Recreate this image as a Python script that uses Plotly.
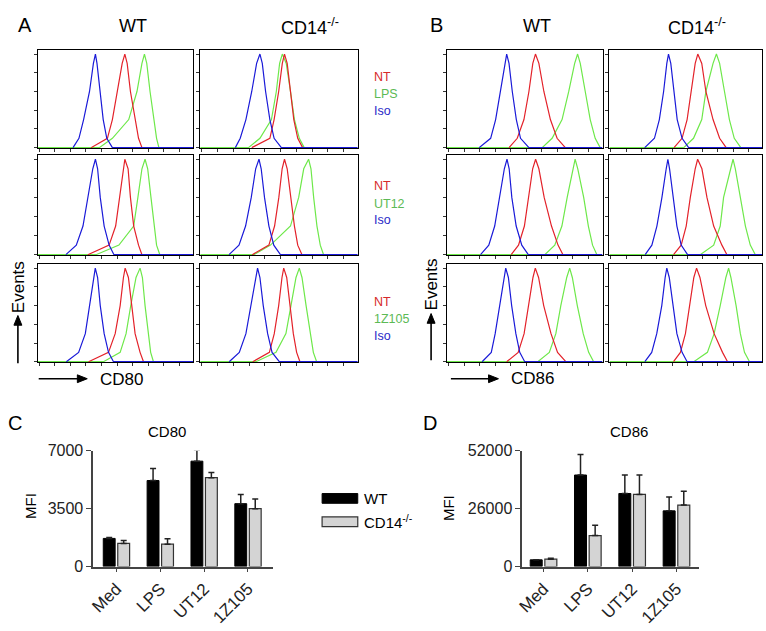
import plotly.graph_objects as go

W, H = 766, 631

# ---------------- histogram data (channel position 0-100 at relative heights) -------------
levels = [0, 0.1, 0.3, 0.6, 0.9, 1.0, 0.9, 0.6, 0.3, 0.1, 0]

# CD80 (panel A)
cd80_r1_wt_iso = [22.7, 26.5, 29.5, 33.3, 35.8, 37.1, 38.1, 40.0, 42.1, 44.4, 48.0]
cd80_r1_wt_nt = [34.3, 44.8, 48.0, 51.2, 54.3, 56.0, 57.5, 59.6, 62.7, 64.8, 67.0]
cd80_r1_wt_stim = [39.6, 48.0, 58.5, 63.8, 67.0, 68.6, 70.1, 72.2, 74.9, 76.4, 77.9]
cd80_r1_ko_iso = [22.3, 25.4, 29.0, 32.7, 35.8, 37.9, 39.4, 41.5, 44.2, 46.9, 51.5]
cd80_r1_ko_nt = [32.7, 44.2, 46.9, 49.8, 52.1, 53.5, 55.2, 57.3, 59.4, 61.9, 65.0]
cd80_r1_ko_stim = [30.6, 37.9, 45.2, 48.3, 50.4, 52.1, 54.6, 57.3, 59.8, 62.9, 66.0]
cd80_r2_wt_iso = [18.1, 24.8, 29.1, 32.2, 35.4, 37.1, 38.5, 40.2, 42.7, 45.9, 49.0]
cd80_r2_wt_nt = [32.2, 45.9, 50.1, 52.6, 54.7, 56.0, 58.1, 59.6, 61.7, 64.8, 67.0]
cd80_r2_wt_stim = [37.5, 52.2, 61.7, 64.4, 67.0, 69.0, 70.7, 72.8, 74.9, 76.4, 78.5]
cd80_r2_ko_iso = [18.3, 24.6, 28.8, 32.4, 35.2, 37.3, 38.7, 40.8, 43.6, 46.7, 50.9]
cd80_r2_ko_nt = [33.0, 43.6, 47.2, 49.9, 52.0, 53.5, 55.2, 57.3, 59.8, 61.9, 64.6]
cd80_r2_ko_stim = [34.1, 44.6, 57.3, 62.5, 65.7, 68.8, 70.3, 72.0, 74.1, 76.2, 78.3]
cd80_r3_wt_iso = [18.4, 26.3, 30.6, 33.3, 35.9, 37.0, 38.5, 40.2, 42.7, 45.5, 48.7]
cd80_r3_wt_nt = [32.7, 45.5, 49.8, 53.0, 55.1, 56.2, 58.3, 60.5, 62.6, 65.8, 68.0]
cd80_r3_wt_stim = [42.3, 53.0, 56.8, 59.8, 63.2, 65.8, 67.3, 69.0, 71.2, 72.6, 74.4]
cd80_r3_ko_iso = [18.4, 24.8, 29.0, 32.2, 35.0, 36.4, 37.9, 40.0, 42.8, 45.6, 50.2]
cd80_r3_ko_nt = [33.3, 43.9, 47.0, 49.8, 51.9, 53.0, 54.9, 57.0, 59.1, 61.2, 63.3]
cd80_r3_ko_stim = [35.4, 48.1, 54.4, 57.6, 60.8, 62.9, 64.6, 67.2, 69.7, 71.8, 73.9]

# CD86 (panel B)
cd86_r1_wt_iso = [20.7, 28.1, 31.3, 34.5, 37.3, 38.4, 39.9, 42.0, 44.6, 47.3, 52.7]
cd86_r1_wt_nt = [39.9, 45.2, 49.5, 52.7, 55.2, 56.9, 59.1, 62.3, 66.5, 70.8, 76.1]
cd86_r1_wt_stim = [61.2, 67.6, 74.0, 78.3, 82.1, 84.0, 85.7, 88.9, 92.1, 95.3, 98.5]
cd86_r1_ko_iso = [23.1, 29.5, 32.7, 35.5, 37.6, 38.7, 40.2, 42.3, 44.4, 47.6, 51.9]
cd86_r1_ko_nt = [42.3, 47.6, 50.9, 53.4, 56.2, 57.9, 60.5, 63.2, 67.9, 72.2, 76.5]
cd86_r1_ko_stim = [48.7, 55.1, 60.5, 63.2, 67.9, 70.1, 72.2, 75.4, 78.6, 81.8, 86.1]
cd86_r2_wt_iso = [21.6, 26.9, 30.7, 33.9, 36.9, 38.6, 40.0, 41.7, 44.5, 48.1, 52.3]
cd86_r2_wt_nt = [41.3, 46.0, 49.8, 52.3, 55.1, 57.0, 59.1, 62.5, 67.2, 71.4, 74.6]
cd86_r2_wt_stim = [62.9, 69.3, 73.9, 77.3, 80.9, 82.4, 84.1, 87.9, 90.9, 93.6, 96.4]
cd86_r2_ko_iso = [23.4, 27.8, 31.1, 34.4, 37.2, 38.3, 39.4, 42.0, 44.2, 47.0, 51.2]
cd86_r2_ko_nt = [42.0, 47.0, 50.3, 53.0, 56.2, 57.8, 60.6, 63.9, 68.3, 73.7, 77.0]
cd86_r2_ko_stim = [59.5, 68.3, 72.6, 74.8, 79.2, 81.0, 82.5, 85.8, 89.1, 92.3, 95.6]
cd86_r3_wt_iso = [22.6, 28.5, 31.0, 33.8, 36.7, 37.8, 39.5, 41.6, 44.3, 46.8, 50.0]
cd86_r3_wt_nt = [38.4, 45.8, 49.6, 52.5, 55.3, 56.8, 58.9, 62.2, 66.9, 71.1, 76.4]
cd86_r3_wt_stim = [58.4, 65.8, 70.0, 73.2, 77.0, 78.9, 80.6, 83.8, 87.6, 91.1, 94.3]
cd86_r3_ko_iso = [23.2, 27.7, 31.0, 34.3, 36.5, 37.6, 39.2, 41.6, 44.2, 47.6, 50.9]
cd86_r3_ko_nt = [42.0, 46.5, 49.8, 52.7, 55.3, 57.1, 59.3, 63.1, 68.6, 74.1, 77.4]
cd86_r3_ko_stim = [55.3, 64.2, 68.6, 72.6, 76.3, 78.1, 79.6, 83.0, 85.8, 88.5, 91.8]

stim_labels = ["LPS", "UT12", "1Z105"]

# ---------------- bar data ----------------
categories = ["Med", "LPS", "UT12", "1Z105"]
cd80_wt = [1700, 5200, 6370, 3800]
cd80_wt_err = [60, 720, 670, 550]
cd80_ko = [1400, 1350, 5370, 3500]
cd80_ko_err = [180, 330, 310, 590]
cd86_wt = [3000, 41100, 32800, 25000]
cd86_wt_err = [0, 9200, 8300, 6200]
cd86_ko = [3300, 13900, 32400, 27600]
cd86_ko_err = [400, 4600, 8700, 6200]
cd80_ticks = [0, 3500, 7000]
cd86_ticks = [0, 26000, 52000]

FONT = "Arial, Liberation Sans, sans-serif"
BLUE, RED, GREEN = "#1a1ad8", "#e3222a", "#6ee84a"


def px(x):
    return x / W


def py(y):
    return 1 - y / H


fig = go.Figure()
layout = dict(width=W, height=H, margin=dict(l=0, r=0, t=0, b=0), autosize=False,
              paper_bgcolor="white", plot_bgcolor="white", showlegend=False,
              bargap=0.34, bargroupgap=0.18, barmode="group")

row_px = [(43, 144), (151, 254), (263, 364)]
col_px = [(31, 188), (195, 354), (444, 601), (608, 762)]

panels = [
    [(cd80_r1_wt_iso, cd80_r1_wt_nt, cd80_r1_wt_stim), (cd80_r1_ko_iso, cd80_r1_ko_nt, cd80_r1_ko_stim),
     (cd86_r1_wt_iso, cd86_r1_wt_nt, cd86_r1_wt_stim), (cd86_r1_ko_iso, cd86_r1_ko_nt, cd86_r1_ko_stim)],
    [(cd80_r2_wt_iso, cd80_r2_wt_nt, cd80_r2_wt_stim), (cd80_r2_ko_iso, cd80_r2_ko_nt, cd80_r2_ko_stim),
     (cd86_r2_wt_iso, cd86_r2_wt_nt, cd86_r2_wt_stim), (cd86_r2_ko_iso, cd86_r2_ko_nt, cd86_r2_ko_stim)],
    [(cd80_r3_wt_iso, cd80_r3_wt_nt, cd80_r3_wt_stim), (cd80_r3_ko_iso, cd80_r3_ko_nt, cd80_r3_ko_stim),
     (cd86_r3_wt_iso, cd86_r3_wt_nt, cd86_r3_wt_stim), (cd86_r3_ko_iso, cd86_r3_ko_nt, cd86_r3_ko_stim)],
]

k = 0
for r, (y0, y1) in enumerate(row_px):
    for c, (x0, x1) in enumerate(col_px):
        k += 1
        sfx = "" if k == 1 else str(k)
        iso, nt, stim = panels[r][c]
        xa, ya = "x" + sfx, "y" + sfx
        fig.add_trace(go.Scatter(x=[0] + stim, y=[0] + levels, mode="lines",
                                 line=dict(color=GREEN, width=1.2), xaxis=xa, yaxis=ya, hoverinfo="skip"))
        fig.add_trace(go.Scatter(x=nt, y=levels, mode="lines",
                                 line=dict(color=RED, width=1.2), xaxis=xa, yaxis=ya, hoverinfo="skip"))
        fig.add_trace(go.Scatter(x=iso + [100], y=levels + [0], mode="lines",
                                 line=dict(color=BLUE, width=1.2), xaxis=xa, yaxis=ya, hoverinfo="skip"))
        layout["xaxis" + sfx] = dict(domain=[px(x0), px(x1)], range=[0, 100], anchor=ya,
                                     showline=True, mirror=True, linecolor="black", linewidth=1.3,
                                     showgrid=False, zeroline=False, showticklabels=False,
                                     ticks="outside", ticklen=3, tick0=1, dtick=10, tickcolor="#333")
        layout["yaxis" + sfx] = dict(domain=[py(y1), py(y0)], range=[-0.005, 1.045], anchor=xa,
                                     showline=True, mirror=True, linecolor="black", linewidth=1.3,
                                     showgrid=False, zeroline=False, showticklabels=False,
                                     ticks="outside", ticklen=3, tick0=0, dtick=0.2, tickcolor="#333")

# ---------------- bar charts ----------------
bar_specs = [
    (13, (87, 268), [-0.53, 3.56], cd80_ticks, cd80_wt, cd80_wt_err, cd80_ko, cd80_ko_err),
    (14, (520, 698), [-0.48, 3.5], cd86_ticks, cd86_wt, cd86_wt_err, cd86_ko, cd86_ko_err),
]
for idx, (x0, x1), xr, tv, wt, wte, ko, koe in bar_specs:
    sfx = str(idx)
    xa, ya = "x" + sfx, "y" + sfx
    fig.add_trace(go.Bar(x=categories, y=wt, xaxis=xa, yaxis=ya, offsetgroup="wt",
                         marker=dict(color="black", line=dict(color="black", width=1)),
                         error_y=dict(type="data", symmetric=False, array=wte, arrayminus=[0] * 4,
                                      color="#222", thickness=1.5, width=3)))
    fig.add_trace(go.Bar(x=categories, y=ko, xaxis=xa, yaxis=ya, offsetgroup="ko",
                         marker=dict(color="#d4d4d4", line=dict(color="#333", width=1.2)),
                         error_y=dict(type="data", symmetric=False, array=koe, arrayminus=[0] * 4,
                                      color="#222", thickness=1.5, width=3)))
    layout["xaxis" + sfx] = dict(domain=[px(x0), px(x1)], range=xr, anchor=ya,
                                 showline=True, linecolor="#444", linewidth=1.5, showgrid=False,
                                 zeroline=False, ticks="outside", ticklen=4, tickcolor="#444",
                                 tickangle=-45, tickfont=dict(family=FONT, size=17, color="#222"))
    layout["yaxis" + sfx] = dict(domain=[py(574), py(455)], range=[0, tv[-1]], anchor=xa,
                                 showline=True, linecolor="#444", linewidth=1.5, showgrid=False,
                                 zeroline=False, ticks="outside", ticklen=5, tickcolor="#444",
                                 tickvals=tv, ticktext=[str(v) for v in tv],
                                 tickfont=dict(family=FONT, size=16, color="#222"))

fig.update_layout(**layout)

ann = []
shapes = []


def txt(x, y, s, size, color="black", xanchor="center", angle=0):
    ann.append(dict(x=px(x), y=py(y), xref="paper", yref="paper", text=s, showarrow=False,
                    xanchor=xanchor, yanchor="middle", textangle=angle,
                    font=dict(family=FONT, size=size, color=color)))


def arrow(hx, hy, tx, ty):
    # shaft
    shapes.append(dict(type="line", xref="paper", yref="paper", x0=px(tx), y0=py(ty),
                       x1=px(hx), y1=py(hy), line=dict(color="black", width=1.6)))
    # head (filled triangle)
    if hx == tx:  # vertical, head up
        pts = [(hx, hy - 2), (hx - 4, hy + 8), (hx + 4, hy + 8)]
    else:  # horizontal, head right
        pts = [(hx + 2, hy), (hx - 8, hy - 4), (hx - 8, hy + 4)]
    path = "M " + " L ".join(f"{px(a):.5f},{py(b):.5f}" for a, b in pts) + " Z"
    shapes.append(dict(type="path", xref="paper", yref="paper", path=path,
                       fillcolor="black", line=dict(color="black", width=1)))


# panel letters and headers
txt(18, 17, "A", 20)
txt(433, 17, "B", 20)
txt(8, 426, "C", 20)
txt(427, 427, "D", 20)
txt(127, 19, "WT", 18)
txt(306, 19, "CD14<sup>-/-</sup>", 18)
txt(535, 19, "WT", 18)
txt(696, 19, "CD14<sup>-/-</sup>", 18)

# legend texts beside panel A
leg_rows = [(71, 88, 106), (183, 201, 218), (302, 320, 337)]
for (yn, ys, yi), lab in zip(leg_rows, stim_labels):
    txt(368, yn, "NT", 12.5, "#d62a2a", "left")
    txt(368, ys, lab, 12.5, "#5cba55", "left")
    txt(368, yi, "Iso", 12.5, "#2a2ac8", "left")

# axis annotations for histograms
txt(11, 287, "Events", 17, angle=-90)
arrow(11, 318, 11, 365)
txt(92, 382, "CD80", 17, xanchor="left")
arrow(79, 381, 32, 381)
txt(428, 284, "Events", 17, angle=-90)
arrow(428, 316, 428, 362)
txt(507, 381, "CD86", 17, xanchor="left")
arrow(494, 381, 448, 381)

# bar chart titles / labels
txt(161, 435, "CD80", 15)
txt(628, 435, "CD86", 15)
txt(23, 512, "MFI", 15, angle=-90)
txt(445, 514, "MFI", 15, angle=-90)

# bar legend
txt(358, 504, "WT", 15, xanchor="left")
txt(358, 528, "CD14<sup>-/-</sup>", 15, xanchor="left")

shapes += [
    dict(type="rect", xref="paper", yref="paper", x0=px(318), x1=px(354), y0=py(509), y1=py(499),
         fillcolor="black", line=dict(color="black", width=1)),
    dict(type="rect", xref="paper", yref="paper", x0=px(318), x1=px(354), y0=py(533), y1=py(523),
         fillcolor="#d4d4d4", line=dict(color="#333", width=1.2)),
]

fig.update_layout(annotations=ann, shapes=shapes)
fig.write_html("out.html", config={"displayModeBar": False},
               post_script="document.body.style.margin='0';document.body.style.overflow='hidden';")
